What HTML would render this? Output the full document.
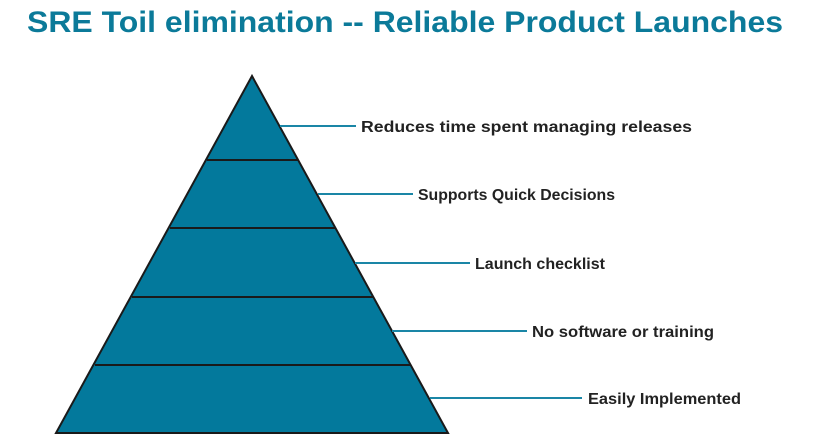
<!DOCTYPE html>
<html><head><style>
body{margin:0;background:#fff;width:814px;height:440px;overflow:hidden;font-family:"Liberation Sans",sans-serif}
</style></head><body>
<svg width="814" height="440" xmlns="http://www.w3.org/2000/svg">
<text x="27" y="32" textLength="756" lengthAdjust="spacingAndGlyphs" font-family="Liberation Sans, sans-serif" font-weight="bold" font-size="30" fill="#0b7a99">SRE Toil elimination -- Reliable Product Launches</text>
<polygon points="252,76 56,433 448,433" fill="#03799c" stroke="#1a1a1a" stroke-width="2"/>
<g stroke="#1a1a1a" stroke-width="2">
<line x1="207" y1="160" x2="298" y2="160"/>
<line x1="170" y1="228" x2="335" y2="228"/>
<line x1="132" y1="297" x2="373" y2="297"/>
<line x1="95" y1="365" x2="410" y2="365"/>
</g>
<g stroke="#1a86a6" stroke-width="2">
<line x1="280" y1="126" x2="356" y2="126"/>
<line x1="318" y1="194" x2="413" y2="194"/>
<line x1="355" y1="263" x2="470" y2="263"/>
<line x1="392" y1="331" x2="527" y2="331"/>
<line x1="430" y1="398" x2="582" y2="398"/>
</g>
<g font-family="Liberation Sans, sans-serif" font-weight="bold" font-size="16" fill="#222" lengthAdjust="spacingAndGlyphs">
<text x="361" y="132" textLength="331" lengthAdjust="spacingAndGlyphs">Reduces time spent managing releases</text>
<text x="418" y="200" textLength="197" lengthAdjust="spacingAndGlyphs">Supports Quick Decisions</text>
<text x="475" y="269" textLength="130" lengthAdjust="spacingAndGlyphs">Launch checklist</text>
<text x="532" y="337" textLength="182" lengthAdjust="spacingAndGlyphs">No software or training</text>
<text x="588" y="404" textLength="153" lengthAdjust="spacingAndGlyphs">Easily Implemented</text>
</g>
</svg>
</body></html>
